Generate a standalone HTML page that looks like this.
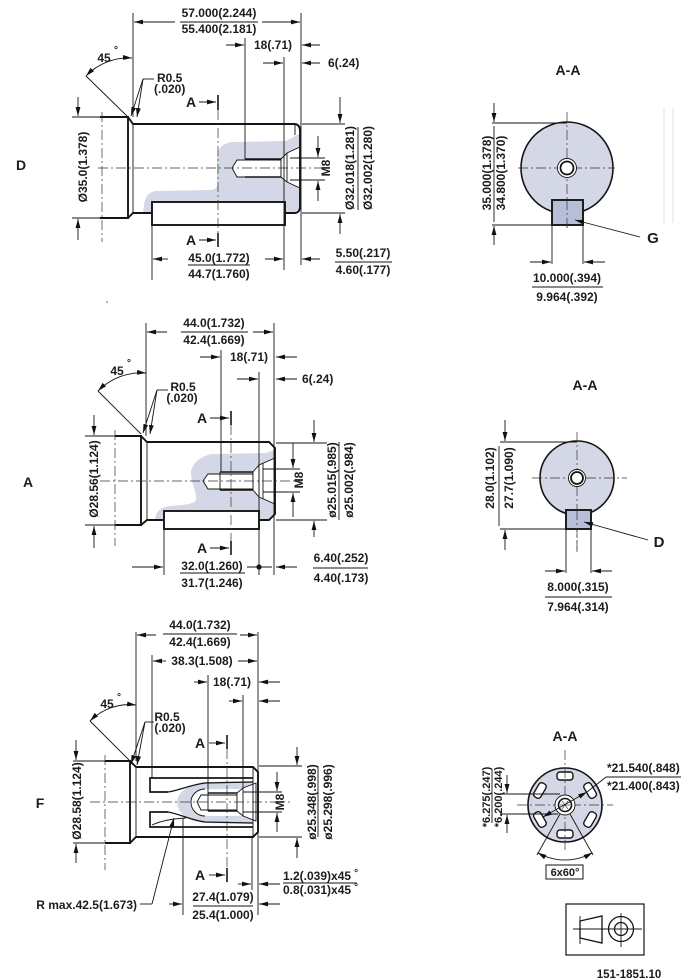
<!DOCTYPE html>
<html><head><meta charset="utf-8">
<style>
html,body{margin:0;padding:0;background:#fff;width:683px;height:979px;overflow:hidden}
svg{display:block}
text{font-family:"Liberation Sans",Arial,sans-serif;font-weight:bold;font-size:12px;fill:#1c1c1c}
.L{font-size:14px}
.s{font-size:11px}
.o{stroke:#151515;stroke-width:1.9;fill:none}
.t{stroke:#151515;stroke-width:0.9;fill:none}
.c{stroke:#333;stroke-width:0.7;fill:none;stroke-dasharray:10 3 2 3}
.g{fill:#d4d7e6;stroke:none}
.w{fill:#fff}
</style></head><body>
<svg width="683" height="979" viewBox="0 0 683 979" xmlns="http://www.w3.org/2000/svg">
<defs>
<marker id="a" viewBox="0 0 10 10" refX="10" refY="5" markerWidth="9" markerHeight="9" markerUnits="userSpaceOnUse" orient="auto"><path d="M0,2.3 L10,5 L0,7.7z" fill="#111"/></marker>
<marker id="b" viewBox="0 0 10 10" refX="0" refY="5" markerWidth="9" markerHeight="9" markerUnits="userSpaceOnUse" orient="auto"><path d="M10,2.3 L0,5 L10,7.7z" fill="#111"/></marker>
</defs>

<!-- ================= DRAWING 1 (D) ================= -->
<text class="L" x="21" y="170" text-anchor="middle">D</text>
<path class="g" d="M299,134 L286,141 L232,142 C222,143 217,150 217,158 L217,178 C217,184 219,188 212,190 L156,191 C148,192 145,198 144,205 L143,213 L294,213 L300,207 Z"/>
<path class="t w" d="M232,168 L237,160 L281,160 L281,177 L237,177 Z"/>
<line class="o" x1="245" y1="159" x2="281" y2="159" style="stroke-width:1.6"/>
<line class="o" x1="245" y1="177" x2="281" y2="177" style="stroke-width:1.6"/>
<path class="t w" d="M281,159 L287,153 L300,147 L300,188 L287,182 L281,177 Z"/>
<line class="t" x1="287" y1="153" x2="287" y2="182"/>
<path class="o" d="M100,117 L128,117 L128,218 L100,218"/>
<path class="o" d="M128,117 L133,124 L294,124 Q300,124 300,131 L300,206 Q300,213 294,213 L133,213 L128,218"/>
<line class="t" x1="133" y1="124" x2="133" y2="213"/>
<line class="t" x1="295" y1="124" x2="295" y2="135"/>
<rect class="o w" x="152" y="202" width="133" height="23"/>
<line class="c" x1="218" y1="110" x2="218" y2="233"/>
<line class="c" x1="98" y1="168" x2="326" y2="168"/>
<line class="c" x1="102" y1="112" x2="102" y2="242"/>
<g class="t">
<line x1="133" y1="13" x2="133" y2="117"/>
<line x1="301" y1="13" x2="301" y2="265"/>
<line x1="245" y1="38" x2="245" y2="159"/>
<line x1="284" y1="57" x2="284" y2="270"/>
<line x1="152" y1="225" x2="152" y2="280"/>
<line x1="72" y1="117" x2="100" y2="117"/>
<line x1="72" y1="218" x2="100" y2="218"/>
<line x1="302" y1="124" x2="345" y2="124"/>
<line x1="302" y1="213" x2="345" y2="213"/>
<line x1="290" y1="158" x2="325" y2="158"/>
<line x1="290" y1="180" x2="325" y2="180"/>
<line x1="180" y1="22" x2="258" y2="22"/>
<line x1="358" y1="127" x2="358" y2="210"/>
<line x1="188" y1="265" x2="250" y2="265"/>
<line x1="335" y1="262" x2="392" y2="262"/>
<line x1="86" y1="76" x2="128" y2="117"/>
<line x1="143" y1="79" x2="154" y2="79"/>
</g>
<g class="t" marker-end="url(#a)">
<line x1="175" y1="22" x2="134" y2="22"/>
<line x1="262" y1="22" x2="300" y2="22"/>
<line x1="226" y1="45" x2="244" y2="45"/>
<line x1="320" y1="45" x2="302" y2="45"/>
<line x1="263" y1="63" x2="283" y2="63"/>
<line x1="320" y1="63" x2="302" y2="63"/>
<line x1="78" y1="97" x2="78" y2="116"/>
<line x1="78" y1="240" x2="78" y2="219"/>
<line x1="318" y1="136" x2="318" y2="157"/>
<line x1="318" y1="201" x2="318" y2="181"/>
<line x1="340" y1="97" x2="340" y2="123"/>
<line x1="340" y1="234" x2="340" y2="214"/>
<line x1="168" y1="259" x2="153" y2="259"/>
<line x1="265" y1="259" x2="283" y2="259"/>
<line x1="320" y1="259" x2="302" y2="259"/>
<line x1="199" y1="102" x2="216" y2="102"/>
<line x1="199" y1="240" x2="216" y2="240"/>
<line x1="143" y1="79" x2="131" y2="116"/>
<line x1="143" y1="79" x2="137" y2="117"/>
</g>
<path class="t" d="M86,76 A59,59 0 0 1 132,58" marker-start="url(#b)" marker-end="url(#a)"/>
<line class="o" x1="218" y1="95" x2="218" y2="110" style="stroke-width:1.6"/>
<line class="o" x1="218" y1="233" x2="218" y2="247" style="stroke-width:1.6"/>
<text x="219" y="17" text-anchor="middle">57.000(2.244)</text>
<text x="219" y="33" text-anchor="middle">55.400(2.181)</text>
<text x="273" y="49" text-anchor="middle">18(.71)</text>
<text x="328" y="67">6(.24)</text>
<text x="104" y="62" text-anchor="middle">45</text>
<text x="114" y="53" style="font-size:10px">°</text>
<text x="157" y="82">R0.5</text>
<text x="154" y="93">(.020)</text>
<text class="L" x="191" y="107" text-anchor="middle">A</text>
<text class="L" x="191" y="245" text-anchor="middle">A</text>
<text transform="translate(83,167) rotate(-90)" y="4" text-anchor="middle">Ø35.0(1.378)</text>
<text transform="translate(326,168) rotate(-90)" y="4" text-anchor="middle">M8</text>
<text transform="translate(350,168) rotate(-90)" y="4" text-anchor="middle">Ø32.018(1.281)</text>
<text transform="translate(368,168) rotate(-90)" y="4" text-anchor="middle">Ø32.002(1.280)</text>
<text x="219" y="262" text-anchor="middle">45.0(1.772)</text>
<text x="219" y="278" text-anchor="middle">44.7(1.760)</text>
<text x="363" y="257" text-anchor="middle">5.50(.217)</text>
<text x="363" y="274" text-anchor="middle">4.60(.177)</text>

<!-- A-A view 1 -->
<text class="L" x="568" y="75" text-anchor="middle">A-A</text>
<circle cx="567" cy="168" r="46" fill="#d4d7e6" stroke="#151515" stroke-width="1.6"/>
<line class="c" x1="518" y1="168" x2="615" y2="168"/>
<line class="c" x1="567" y1="112" x2="567" y2="228"/>
<circle class="w" cx="567" cy="168" r="9.5" stroke="#151515" stroke-width="0.9"/>
<circle class="w" cx="567" cy="168" r="6.5" stroke="#151515" stroke-width="1.8"/>
<rect x="552" y="200" width="31" height="25" fill="#b7bed7" stroke="#151515" stroke-width="1.9"/>
<line class="c" x1="567" y1="200" x2="567" y2="228"/>
<g class="t">
<line x1="492" y1="123" x2="567" y2="123"/>
<line x1="492" y1="225" x2="552" y2="225"/>
<line x1="494" y1="126" x2="494" y2="222"/>
<line x1="552" y1="225" x2="552" y2="264"/>
<line x1="583" y1="225" x2="583" y2="264"/>
<line x1="532" y1="287" x2="603" y2="287"/>
</g>
<g stroke="#e2e2e2" stroke-width="1">
<line x1="664" y1="108" x2="664" y2="223"/>
<line x1="673" y1="108" x2="673" y2="223"/>
</g>
<g class="t" marker-end="url(#a)">
<line x1="494" y1="103" x2="494" y2="122"/>
<line x1="494" y1="245" x2="494" y2="226"/>
<line x1="530" y1="262" x2="551" y2="262"/>
<line x1="605" y1="262" x2="584" y2="262"/>
<line x1="640" y1="237" x2="575" y2="220"/>
</g>
<text transform="translate(487,173) rotate(-90)" y="4" text-anchor="middle">35.000(1.378)</text>
<text transform="translate(501,173) rotate(-90)" y="4" text-anchor="middle">34.800(1.370)</text>
<text x="567" y="282" text-anchor="middle">10.000(.394)</text>
<text x="567" y="301" text-anchor="middle">9.964(.392)</text>
<text class="L" x="653" y="243" text-anchor="middle" style="font-size:15px">G</text>

<!-- ================= DRAWING 2 (A) ================= -->
<circle cx="107" cy="302" r="0.8" fill="#555"/>
<text class="L" x="28" y="487" text-anchor="middle">A</text>
<path class="g" d="M274,450 L266,453 L212,454 C200,456 190,465 191,475 C192,485 197,492 196,500 C194,504 185,505 170,506 C160,507 156,512 155,519 L269,520 L275,514 Z"/>
<path class="t w" d="M203,481 L208,474 L253,474 L253,489 L208,489 Z"/>
<line class="o" x1="220" y1="472" x2="253" y2="472" style="stroke-width:1.6"/>
<line class="o" x1="220" y1="490" x2="253" y2="490" style="stroke-width:1.6"/>
<line class="t" x1="220" y1="472" x2="220" y2="490"/>
<path class="t w" d="M253,472 L259,465 L275,458 L275,504 L259,497 L253,490 Z"/>
<line class="t" x1="259" y1="465" x2="259" y2="497"/>
<line class="t" x1="263" y1="463" x2="263" y2="499"/>
<path class="o" d="M115,436 L141,436 L141,525 L115,525"/>
<path class="o" d="M141,436 L147,442 L269,442 L275,448 L275,514 L269,520 L147,520 L141,525"/>
<line class="t" x1="147" y1="442" x2="147" y2="520"/>
<rect class="o w" x="164" y="511" width="95" height="18"/>
<line class="c" x1="231" y1="425" x2="231" y2="542"/>
<line class="c" x1="100" y1="481" x2="302" y2="481"/>
<line class="c" x1="115" y1="430" x2="115" y2="546"/>
<g class="t">
<line x1="146" y1="323" x2="146" y2="436"/>
<line x1="274" y1="323" x2="274" y2="575"/>
<line x1="221" y1="350" x2="221" y2="472"/>
<line x1="259" y1="372" x2="259" y2="575"/>
<line x1="164" y1="529" x2="164" y2="575"/>
<line x1="85" y1="436" x2="115" y2="436"/>
<line x1="85" y1="525" x2="115" y2="525"/>
<line x1="276" y1="443" x2="327" y2="443"/>
<line x1="276" y1="520" x2="327" y2="520"/>
<line x1="263" y1="469" x2="300" y2="469"/>
<line x1="263" y1="492" x2="300" y2="492"/>
<line x1="181" y1="332" x2="248" y2="332"/>
<line x1="339" y1="442" x2="339" y2="520"/>
<line x1="180" y1="573" x2="245" y2="573"/>
<line x1="247" y1="567" x2="272" y2="567"/>
<line x1="313" y1="568" x2="368" y2="568"/>
<line x1="98" y1="391" x2="141" y2="434"/>
<line x1="157" y1="390" x2="168" y2="390"/>
</g>
<circle cx="259" cy="567" r="2.6" fill="#151515"/>
<g class="t" marker-end="url(#a)">
<line x1="167" y1="332" x2="147" y2="332"/>
<line x1="253" y1="332" x2="273" y2="332"/>
<line x1="200" y1="357" x2="220" y2="357"/>
<line x1="297" y1="357" x2="276" y2="357"/>
<line x1="237" y1="379" x2="258" y2="379"/>
<line x1="297" y1="379" x2="276" y2="379"/>
<line x1="94" y1="415" x2="94" y2="435"/>
<line x1="94" y1="548" x2="94" y2="526"/>
<line x1="293" y1="443" x2="293" y2="468"/>
<line x1="293" y1="517" x2="293" y2="493"/>
<line x1="314" y1="420" x2="314" y2="442"/>
<line x1="314" y1="537" x2="314" y2="521"/>
<line x1="132" y1="567" x2="163" y2="567"/>
<line x1="297" y1="567" x2="276" y2="567"/>
<line x1="210" y1="418" x2="229" y2="418"/>
<line x1="210" y1="548" x2="229" y2="548"/>
<line x1="157" y1="390" x2="143" y2="433"/>
<line x1="157" y1="390" x2="150" y2="434"/>
</g>
<path class="t" d="M98,391 A61,61 0 0 1 146,373" marker-start="url(#b)" marker-end="url(#a)"/>
<line class="o" x1="231" y1="411" x2="231" y2="425" style="stroke-width:1.6"/>
<line class="o" x1="231" y1="541" x2="231" y2="555" style="stroke-width:1.6"/>
<text x="214" y="327" text-anchor="middle">44.0(1.732)</text>
<text x="214" y="344" text-anchor="middle">42.4(1.669)</text>
<text x="249" y="361" text-anchor="middle">18(.71)</text>
<text x="302" y="383">6(.24)</text>
<text x="117" y="375" text-anchor="middle">45</text>
<text x="127" y="366" style="font-size:10px">°</text>
<text x="183" y="391" text-anchor="middle">R0.5</text>
<text x="182" y="402" text-anchor="middle">(.020)</text>
<text class="L" x="202" y="423" text-anchor="middle">A</text>
<text class="L" x="202" y="553" text-anchor="middle">A</text>
<text transform="translate(94,479) rotate(-90)" y="4" text-anchor="middle">Ø28.56(1.124)</text>
<text transform="translate(299,480) rotate(-90)" y="4" text-anchor="middle">M8</text>
<text transform="translate(332,480) rotate(-90)" y="4" text-anchor="middle">ø25.015(.985)</text>
<text transform="translate(349,480) rotate(-90)" y="4" text-anchor="middle">ø25.002(.984)</text>
<text x="212" y="570" text-anchor="middle">32.0(1.260)</text>
<text x="212" y="587" text-anchor="middle">31.7(1.246)</text>
<text x="341" y="562" text-anchor="middle">6.40(.252)</text>
<text x="341" y="582" text-anchor="middle">4.40(.173)</text>

<!-- A-A view 2 -->
<text class="L" x="585" y="390" text-anchor="middle">A-A</text>
<circle cx="577" cy="478" r="37" fill="#d4d7e6" stroke="#151515" stroke-width="1.6"/>
<line class="c" x1="532" y1="478" x2="627" y2="478"/>
<line class="c" x1="577" y1="432" x2="577" y2="552"/>
<circle class="w" cx="577" cy="478" r="8.5" stroke="#151515" stroke-width="0.9"/>
<circle class="w" cx="577" cy="478" r="6" stroke="#151515" stroke-width="1.8"/>
<rect x="566" y="510" width="25" height="19" fill="#b7bed7" stroke="#151515" stroke-width="1.9"/>
<line class="c" x1="577" y1="510" x2="577" y2="552"/>
<g class="t">
<line x1="500" y1="442" x2="577" y2="442"/>
<line x1="500" y1="529" x2="566" y2="529"/>
<line x1="499" y1="446" x2="499" y2="526"/>
<line x1="566" y1="529" x2="566" y2="573"/>
<line x1="591" y1="529" x2="591" y2="573"/>
<line x1="545" y1="597" x2="612" y2="597"/>
</g>
<g class="t" marker-end="url(#a)">
<line x1="505" y1="420" x2="505" y2="441"/>
<line x1="505" y1="550" x2="505" y2="530"/>
<line x1="545" y1="571" x2="565" y2="571"/>
<line x1="612" y1="571" x2="592" y2="571"/>
<line x1="648" y1="540" x2="584" y2="522"/>
</g>
<text transform="translate(490,478) rotate(-90)" y="4" text-anchor="middle">28.0(1.102)</text>
<text transform="translate(509,478) rotate(-90)" y="4" text-anchor="middle">27.7(1.090)</text>
<text x="578" y="591" text-anchor="middle">8.000(.315)</text>
<text x="578" y="611" text-anchor="middle">7.964(.314)</text>
<text class="L" x="659" y="547" text-anchor="middle" style="font-size:15px">D</text>

<!-- ================= DRAWING 3 (F) ================= -->
<text class="L" x="40" y="808" text-anchor="middle">F</text>
<path class="g" d="M253,781 L205,782 C190,784 177,792 177,802 C177,814 190,822 205,823 L253,824 Z"/>
<path class="t w" d="M242,789 L205,789 C197,789 191,795 191,802 C191,810 197,816 205,816 L242,816 Z" style="stroke:none"/>
<path class="t" d="M205,789 C197,789 191,795 191,802 C191,810 197,816 205,816"/>
<path class="t w" d="M197,802 L201,795 L237,795 L237,810 L201,810 Z"/>
<line class="o" x1="208" y1="793" x2="237" y2="793" style="stroke-width:1.6"/>
<line class="o" x1="208" y1="811" x2="237" y2="811" style="stroke-width:1.6"/>
<line class="t" x1="208" y1="793" x2="208" y2="811"/>
<path class="t w" d="M237,793 L243,788 L256,783 L256,821 L243,816 L237,811 Z"/>
<line class="t" x1="243" y1="788" x2="243" y2="816"/>
<path class="o" d="M105,761 L130,761 L130,843 L105,843"/>
<path class="o" d="M130,761 L136,767 L253,767 L258,772 L258,832 L253,837 L136,837 L130,843"/>
<line class="t" x1="136" y1="767" x2="136" y2="837"/>
<line class="t" x1="253" y1="767" x2="253" y2="837"/>
<path class="o" d="M253,778 L150,778 L150,792 L168,792" style="stroke-width:1.7"/>
<path class="t" d="M168,792 C180,790 190,785 205,783 L253,782" style="stroke-width:1.3"/>
<path class="o" d="M253,827 L150,827 L150,812 L168,812" style="stroke-width:1.7"/>
<path class="t" d="M168,812 C180,814 190,820 205,822 L253,823" style="stroke-width:1.3"/>
<path class="t" d="M152,825 Q165,819 186,818"/>
<line class="c" x1="227" y1="749" x2="227" y2="868"/>
<line class="c" x1="90" y1="802" x2="290" y2="802"/>
<line class="c" x1="105" y1="755" x2="105" y2="870"/>
<g class="t">
<line x1="136" y1="632" x2="136" y2="761"/>
<line x1="258" y1="632" x2="258" y2="915"/>
<line x1="152" y1="655" x2="152" y2="778"/>
<line x1="208" y1="675" x2="208" y2="793"/>
<line x1="243" y1="695" x2="243" y2="788"/>
<line x1="252" y1="837" x2="252" y2="890"/>
<line x1="183" y1="818" x2="183" y2="915"/>
<line x1="73" y1="761" x2="105" y2="761"/>
<line x1="73" y1="843" x2="105" y2="843"/>
<line x1="259" y1="766" x2="302" y2="766"/>
<line x1="259" y1="837" x2="302" y2="837"/>
<line x1="243" y1="792" x2="282" y2="792"/>
<line x1="243" y1="812" x2="282" y2="812"/>
<line x1="163" y1="634" x2="237" y2="634"/>
<line x1="318" y1="766" x2="318" y2="837"/>
<line x1="283" y1="883" x2="357" y2="883"/>
<line x1="193" y1="906" x2="253" y2="906"/>
<line x1="90" y1="721" x2="130" y2="761"/>
<line x1="145" y1="722" x2="154" y2="722"/>
<line x1="140" y1="904" x2="152" y2="904"/>
</g>
<g class="t" marker-end="url(#a)">
<line x1="156" y1="635" x2="137" y2="635"/>
<line x1="240" y1="635" x2="257" y2="635"/>
<line x1="166" y1="661" x2="153" y2="661"/>
<line x1="238" y1="661" x2="257" y2="661"/>
<line x1="194" y1="682" x2="207" y2="682"/>
<line x1="280" y1="682" x2="259" y2="682"/>
<line x1="229" y1="701" x2="242" y2="701"/>
<line x1="280" y1="701" x2="259" y2="701"/>
<line x1="76" y1="740" x2="76" y2="760"/>
<line x1="76" y1="863" x2="76" y2="844"/>
<line x1="277" y1="772" x2="277" y2="791"/>
<line x1="277" y1="832" x2="277" y2="813"/>
<line x1="297" y1="747" x2="297" y2="765"/>
<line x1="297" y1="858" x2="297" y2="838"/>
<line x1="238" y1="884" x2="251" y2="884"/>
<line x1="280" y1="884" x2="259" y2="884"/>
<line x1="169" y1="904" x2="182" y2="904"/>
<line x1="280" y1="904" x2="259" y2="904"/>
<line x1="209" y1="743" x2="225" y2="743"/>
<line x1="209" y1="875" x2="225" y2="875"/>
<line x1="145" y1="722" x2="131" y2="764"/>
<line x1="145" y1="722" x2="137" y2="765"/>
<line x1="152" y1="904" x2="174" y2="818"/>
</g>
<path class="t" d="M90,721 A56,56 0 0 1 136,705" marker-start="url(#b)" marker-end="url(#a)"/>
<line class="o" x1="227" y1="735" x2="227" y2="749" style="stroke-width:1.6"/>
<line class="o" x1="227" y1="868" x2="227" y2="882" style="stroke-width:1.6"/>
<text x="200" y="629" text-anchor="middle">44.0(1.732)</text>
<text x="200" y="646" text-anchor="middle">42.4(1.669)</text>
<text x="202" y="665" text-anchor="middle">38.3(1.508)</text>
<text x="232" y="686" text-anchor="middle">18(.71)</text>
<text x="107" y="708" text-anchor="middle">45</text>
<text x="117" y="700" style="font-size:10px">°</text>
<text x="167" y="721" text-anchor="middle">R0.5</text>
<text x="170" y="732" text-anchor="middle">(.020)</text>
<text class="L" x="200" y="748" text-anchor="middle">A</text>
<text class="L" x="200" y="880" text-anchor="middle">A</text>
<text transform="translate(77,801) rotate(-90)" y="4" text-anchor="middle">Ø28.58(1.124)</text>
<text transform="translate(280,802) rotate(-90)" y="4" text-anchor="middle">M8</text>
<text transform="translate(312,802) rotate(-90)" y="4" text-anchor="middle">ø25.348(.998)</text>
<text transform="translate(328,802) rotate(-90)" y="4" text-anchor="middle">ø25.298(.996)</text>
<text x="283" y="880">1.2(.039)x45<tspan dx="3" dy="-4" style="font-size:10px">°</tspan></text>
<text x="283" y="894">0.8(.031)x45<tspan dx="3" dy="-4" style="font-size:10px">°</tspan></text>
<text x="223" y="901" text-anchor="middle">27.4(1.079)</text>
<text x="223" y="919" text-anchor="middle">25.4(1.000)</text>
<text x="137" y="909" text-anchor="end">R max.42.5(1.673)</text>

<!-- A-A view 3 -->
<text class="L" x="565" y="741" text-anchor="middle">A-A</text>
<circle cx="565" cy="805" r="37" fill="#d4d7e6" stroke="#151515" stroke-width="1.6"/>
<g stroke="#151515" stroke-width="1.4" fill="#fff">
<rect x="-8" y="-33" width="16" height="8" rx="3" transform="translate(565,805) rotate(0)"/>
<rect x="-8" y="-33" width="16" height="8" rx="3" transform="translate(565,805) rotate(60)"/>
<rect x="-8" y="-33" width="16" height="8" rx="3" transform="translate(565,805) rotate(120)"/>
<rect x="-8" y="-33" width="16" height="8" rx="3" transform="translate(565,805) rotate(180)"/>
<rect x="-8" y="-33" width="16" height="8" rx="3" transform="translate(565,805) rotate(240)"/>
<rect x="-8" y="-33" width="16" height="8" rx="3" transform="translate(565,805) rotate(300)"/>
</g>
<line class="c" x1="517" y1="805" x2="613" y2="805"/>
<line class="c" x1="565" y1="750" x2="565" y2="853"/>
<circle class="w" cx="565" cy="805" r="10" stroke="#151515" stroke-width="0.9"/>
<circle class="w" cx="565" cy="805" r="6.5" stroke="#151515" stroke-width="1.6"/>
<g class="t" style="stroke-width:0.6">
<line x1="560" y1="805" x2="570" y2="805"/>
<line x1="562" y1="801" x2="568" y2="809"/>
<line x1="562" y1="809" x2="568" y2="801"/>
</g>
<g class="t">
<line x1="560" y1="814" x2="537" y2="855"/>
<line x1="570" y1="814" x2="593" y2="855"/>
<line x1="500" y1="794" x2="560" y2="794"/>
<line x1="500" y1="814" x2="558" y2="814"/>
<line x1="492" y1="770" x2="492" y2="823"/>
<line x1="587" y1="792" x2="606" y2="777"/>
<line x1="606" y1="777" x2="681" y2="777"/>
</g>
<line class="t" x1="543" y1="817" x2="587" y2="792" marker-start="url(#b)" marker-end="url(#a)"/>
<path class="t" d="M537.5,852.6 A55,55 0 0 0 592.5,852.6" marker-start="url(#b)" marker-end="url(#a)"/>
<g class="t" marker-end="url(#a)">
<line x1="507" y1="775" x2="507" y2="793"/>
<line x1="507" y1="833" x2="507" y2="815"/>
</g>
<text class="s" transform="translate(486,797) rotate(-90)" y="4" text-anchor="middle">*6.275(.247)</text>
<text class="s" transform="translate(498,797) rotate(-90)" y="4" text-anchor="middle">*6.200(.244)</text>
<text x="607" y="772">*21.540(.848)</text>
<text x="607" y="790">*21.400(.843)</text>
<rect x="546" y="865" width="37" height="14" fill="none" stroke="#151515" stroke-width="1"/>
<text x="565" y="876" text-anchor="middle" style="font-size:11px">6x60°</text>

<!-- icon -->
<rect x="566" y="904" width="78" height="51" fill="none" stroke="#151515" stroke-width="1.2"/>
<path class="t" d="M580,921 L602,916 L602,943 L580,938 Z" style="stroke-width:1.3"/>
<line class="t" x1="573" y1="929" x2="606" y2="929"/>
<line class="t" x1="580" y1="916" x2="580" y2="944"/>
<circle cx="621" cy="929" r="12.5" fill="none" stroke="#151515" stroke-width="1.3"/>
<circle cx="621" cy="929" r="6.5" fill="none" stroke="#151515" stroke-width="1.3"/>
<line class="t" x1="605" y1="929" x2="642" y2="929"/>
<line class="t" x1="621" y1="913" x2="621" y2="947"/>
<text x="629" y="978" text-anchor="middle" style="font-size:11.5px">151-1851.10</text>
</svg>
</body></html>
